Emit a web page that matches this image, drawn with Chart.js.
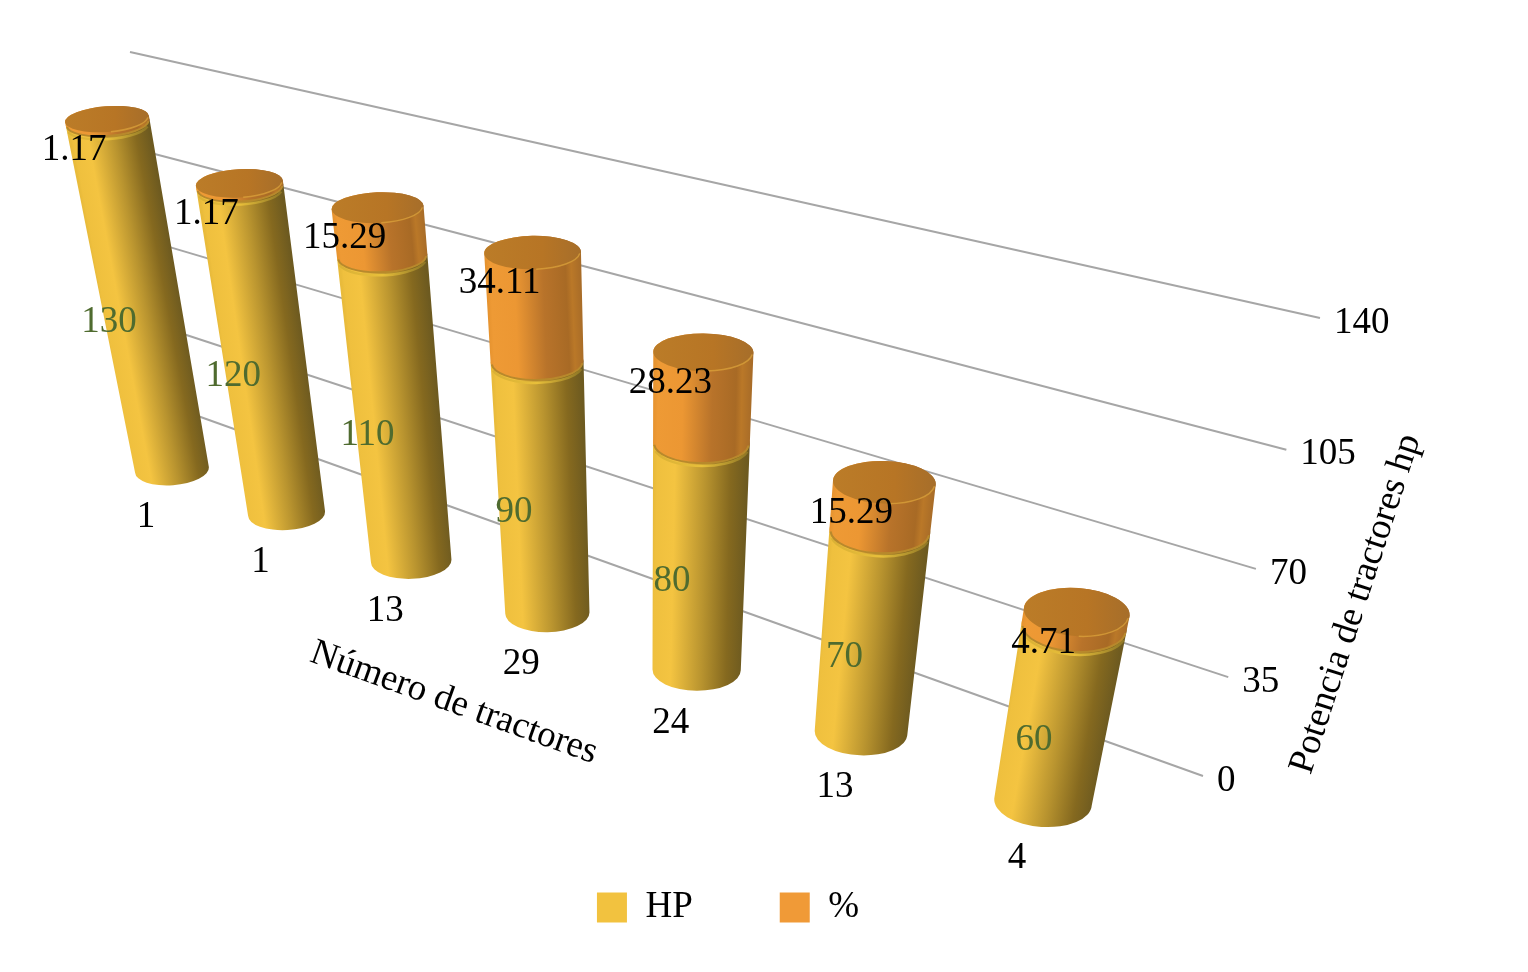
<!DOCTYPE html>
<html lang="es">
<head>
    <meta charset="UTF-8">
    <title>Potencia de tractores</title>
    <script src="https://cdn.jsdelivr.net/npm/chart.js"></script>
    <style>
        html, body { margin: 0; padding: 0; background: #fff; }
        canvas { display: block; }
    </style>
</head>
<body>
    <canvas id="myChart" width="1528" height="972"></canvas>
    <script>
        // values
        const categories = ['1', '1', '13', '29', '24', '13', '4'];
        const hpValues = [130, 120, 110, 90, 80, 70, 60];
        const pctValues = [1.17, 1.17, 15.29, 34.11, 28.23, 15.29, 4.71];
        const pctLabels = ['1.17', '1.17', '15.29', '34.11', '28.23', '15.29', '4.71'];
        const axisMax = 140;
        const axisStep = 35;

        const FONT = '37px "Liberation Serif"';

        // where the plane of the cylinders and the back wall land on screen
        // order: (first, 0) (last, 0) (last, max) (first, max)
        const cylinderQuad = [[172, 470], [1043, 802], [1124, 346], [102, 92]];
        const wallQuad = [[195, 415], [1203, 776], [1320, 318], [130, 52]];

        // unit square -> quad perspective map
        function makeMap(q) {
            const [[x0, y0], [x1, y1], [x2, y2], [x3, y3]] = q;
            const dx1 = x1 - x2, dy1 = y1 - y2, dx2 = x3 - x2, dy2 = y3 - y2;
            const sx = x0 - x1 + x2 - x3, sy = y0 - y1 + y2 - y3;
            const det = dx1 * dy2 - dx2 * dy1;
            const g = (sx * dy2 - dx2 * sy) / det;
            const h = (dx1 * sy - sx * dy1) / det;
            return (u, v) => {
                const w = 1 + g * u + h * v;
                return {
                    x: (x0 + (x1 - x0 + g * x1) * u + (x3 - x0 + h * x3) * v) / w,
                    y: (y0 + (y1 - y0 + g * y1) * u + (y3 - y0 + h * y3) * v) / w,
                    w: w
                };
            };
        }
        const cylMap = makeMap(cylinderQuad);
        const wallMap = makeMap(wallQuad);

        // scale pixels -> screen, so everything still comes out of the chart scales
        function projectCyl(chart, px, py) {
            const { x, y } = chart.scales;
            const x0 = x.getPixelForValue(0), x6 = x.getPixelForValue(categories.length - 1);
            const yb = y.getPixelForValue(0), yt = y.getPixelForValue(axisMax);
            return cylMap((px - x0) / (x6 - x0), (py - yb) / (yt - yb));
        }
        function projectWall(chart, u, value) {
            const { y } = chart.scales;
            const yb = y.getPixelForValue(0), yt = y.getPixelForValue(axisMax);
            return wallMap(u, (y.getPixelForValue(value) - yb) / (yt - yb));
        }

        function disc(chart, px, py) {
            const p = projectCyl(chart, px, py);
            const q = projectCyl(chart, px, py + 10);
            const lean = (q.x - p.x) / (q.y - p.y);
            const a = 37 / p.w;
            const b = a * (0.27 + 0.0003 * p.y);
            const rot = -0.4 * Math.atan(lean);
            return {
                x: p.x, y: p.y, a, b, rot,
                lx: p.x - a * Math.cos(rot), ly: p.y - a * Math.sin(rot),
                rx: p.x + a * Math.cos(rot), ry: p.y + a * Math.sin(rot)
            };
        }

        // gradient runs across the cylinder, its bands stay parallel to the axis
        function sideGradient(ctx, top, bottom, stops) {
            const ax = top.x - bottom.x, ay = top.y - bottom.y;
            const len = Math.hypot(ax, ay) || 1;
            const nx = -ay / len, ny = ax / len;
            const half = (top.a + bottom.a) / 2;
            const mx = (top.x + bottom.x) / 2, my = (top.y + bottom.y) / 2;
            const g = ctx.createLinearGradient(mx - nx * half, my - ny * half, mx + nx * half, my + ny * half);
            stops.forEach(s => g.addColorStop(s[0], s[1]));
            return g;
        }

        const hpStops = [[0, '#E9BB3B'], [0.03, '#EFC03E'], [0.22, '#F4C441'], [0.55, '#B9942F'], [0.82, '#85691F'], [1, '#6D5A20']];
        const pctStops = [[0, '#E5922E'], [0.05, '#EE9A35'], [0.3, '#EC9733'], [0.6, '#B8732A'], [0.84, '#A86A25'], [0.9, '#BA7828'], [1, '#A86C28']];
        const capStops = [[0, '#BB7C28'], [0.6, '#B77525'], [1, '#A66E2A']];
        const rimStops = [[0, '#D9B035'], [0.5, '#E8BF3A'], [1, '#8A7324']];

        function drawSide(ctx, top, bottom, stops) {
            ctx.beginPath();
            ctx.moveTo(top.lx, top.ly);
            ctx.lineTo(bottom.lx, bottom.ly);
            ctx.ellipse(bottom.x, bottom.y, bottom.a, bottom.b, bottom.rot, Math.PI, 0, true);
            ctx.lineTo(top.rx, top.ry);
            ctx.ellipse(top.x, top.y, top.a, top.b, top.rot, 0, Math.PI, true);
            ctx.closePath();
            ctx.fillStyle = sideGradient(ctx, top, bottom, stops);
            ctx.fill();
        }

        function lowerArc(ctx, d, dy, color, width, from, to) {
            ctx.beginPath();
            ctx.ellipse(d.x, d.y + dy, d.a - 1, d.b, d.rot, from, to);
            ctx.strokeStyle = color;
            ctx.lineWidth = width;
            ctx.stroke();
        }

        function flatFill(ctx, d, stops) {
            return sideGradient(ctx, { x: d.x, y: d.y - 10, a: d.a }, { x: d.x, y: d.y + 10, a: d.a }, stops);
        }

        const cylinderPlugin = {
            id: 'cylinders',
            beforeDatasetsDraw(chart) {
                const ctx = chart.ctx;
                const { y } = chart.scales;
                ctx.save();
                ctx.strokeStyle = '#A6A6A6';
                ctx.lineWidth = 2;
                y.ticks.forEach(t => {
                    const a = projectWall(chart, 0, t.value), b = projectWall(chart, 1, t.value);
                    ctx.beginPath();
                    ctx.moveTo(a.x, a.y);
                    ctx.lineTo(b.x, b.y);
                    ctx.stroke();
                });

                // HP part first, the % part sits on it
                chart.getDatasetMeta(0).data.forEach(bar => {
                    const top = disc(chart, bar.x, bar.y);
                    const bottom = disc(chart, bar.x, bar.base);
                    drawSide(ctx, top, bottom, hpStops);
                    lowerArc(ctx, top, 3.5, flatFill(ctx, top, rimStops), 2.5, 0.25, Math.PI - 0.25);
                });
                chart.getDatasetMeta(1).data.forEach(bar => {
                    const top = disc(chart, bar.x, bar.y);
                    const bottom = disc(chart, bar.x, bar.base);
                    drawSide(ctx, top, bottom, pctStops);
                    lowerArc(ctx, bottom, 0.5, '#B8892C', 2, 0.08, Math.PI - 0.08);
                    ctx.beginPath();
                    ctx.ellipse(top.x, top.y, top.a, top.b, top.rot, 0, Math.PI * 2);
                    ctx.fillStyle = flatFill(ctx, top, capStops);
                    ctx.fill();
                    lowerArc(ctx, top, 0, 'rgba(222,165,60,0.7)', 1.5, 0.1, 1.5);
                });
                ctx.restore();
            },
            beforeDatasetDraw() {
                return false; // default flat bars are not wanted
            },
            afterDatasetsDraw(chart) {
                const ctx = chart.ctx;
                const { x, y } = chart.scales;
                ctx.save();
                ctx.font = FONT;
                ctx.textBaseline = 'middle';

                // data labels
                ctx.textAlign = 'center';
                chart.getDatasetMeta(0).data.forEach((bar, i) => {
                    const p = projectCyl(chart, bar.x, (bar.y + bar.base) / 2);
                    ctx.fillStyle = '#4F6B2F';
                    ctx.fillText(String(hpValues[i]), p.x - 33 + 1.5 * i, p.y + 15 + 1.2 * i);
                });
                ctx.fillStyle = '#000';
                chart.getDatasetMeta(1).data.forEach((bar, i) => {
                    const p = projectCyl(chart, bar.x, bar.y);
                    ctx.fillText(pctLabels[i], p.x - 33, p.y + 31);
                });

                // category labels under each cylinder
                chart.getDatasetMeta(0).data.forEach((bar, i) => {
                    const p = projectCyl(chart, bar.x, bar.base);
                    ctx.fillText(x.getLabelForValue(i), p.x - 26, p.y + 47 + 1.5 * i);
                });

                // value ticks at the end of the wall lines
                ctx.textAlign = 'left';
                y.ticks.forEach(t => {
                    const p = projectWall(chart, 1, t.value);
                    ctx.fillText(String(t.value), p.x + 14, p.y + 5);
                });

                // axis titles
                ctx.textAlign = 'center';
                ctx.save();
                ctx.translate(454, 703);
                ctx.rotate(19.8 * Math.PI / 180);
                ctx.fillText('Número de tractores', 0, 0);
                ctx.restore();
                ctx.save();
                ctx.translate(1356, 604);
                ctx.rotate(-72 * Math.PI / 180);
                ctx.fillText('Potencia de tractores hp', 0, 0);
                ctx.restore();
                ctx.restore();
            }
        };

        new Chart(document.getElementById('myChart').getContext('2d'), {
            type: 'bar',
            data: {
                labels: categories,
                datasets: [
                    { label: 'HP', data: hpValues, backgroundColor: '#F2C23F', borderWidth: 0 },
                    { label: '%', data: pctValues, backgroundColor: '#F09A37', borderWidth: 0 }
                ]
            },
            options: {
                responsive: false,
                devicePixelRatio: 1,
                animation: false,
                events: [],
                layout: { padding: { right: 72, bottom: 36 } },
                scales: {
                    x: { stacked: true, display: false },
                    y: { stacked: true, display: false, min: 0, max: axisMax, ticks: { stepSize: axisStep } }
                },
                plugins: {
                    tooltip: { enabled: false },
                    legend: {
                        position: 'bottom',
                        labels: {
                            boxWidth: 30,
                            boxHeight: 30,
                            padding: 87,
                            color: '#000',
                            font: { family: '"Liberation Serif"', size: 37 }
                        }
                    }
                }
            },
            plugins: [cylinderPlugin]
        });
    </script>
</body>
</html>
